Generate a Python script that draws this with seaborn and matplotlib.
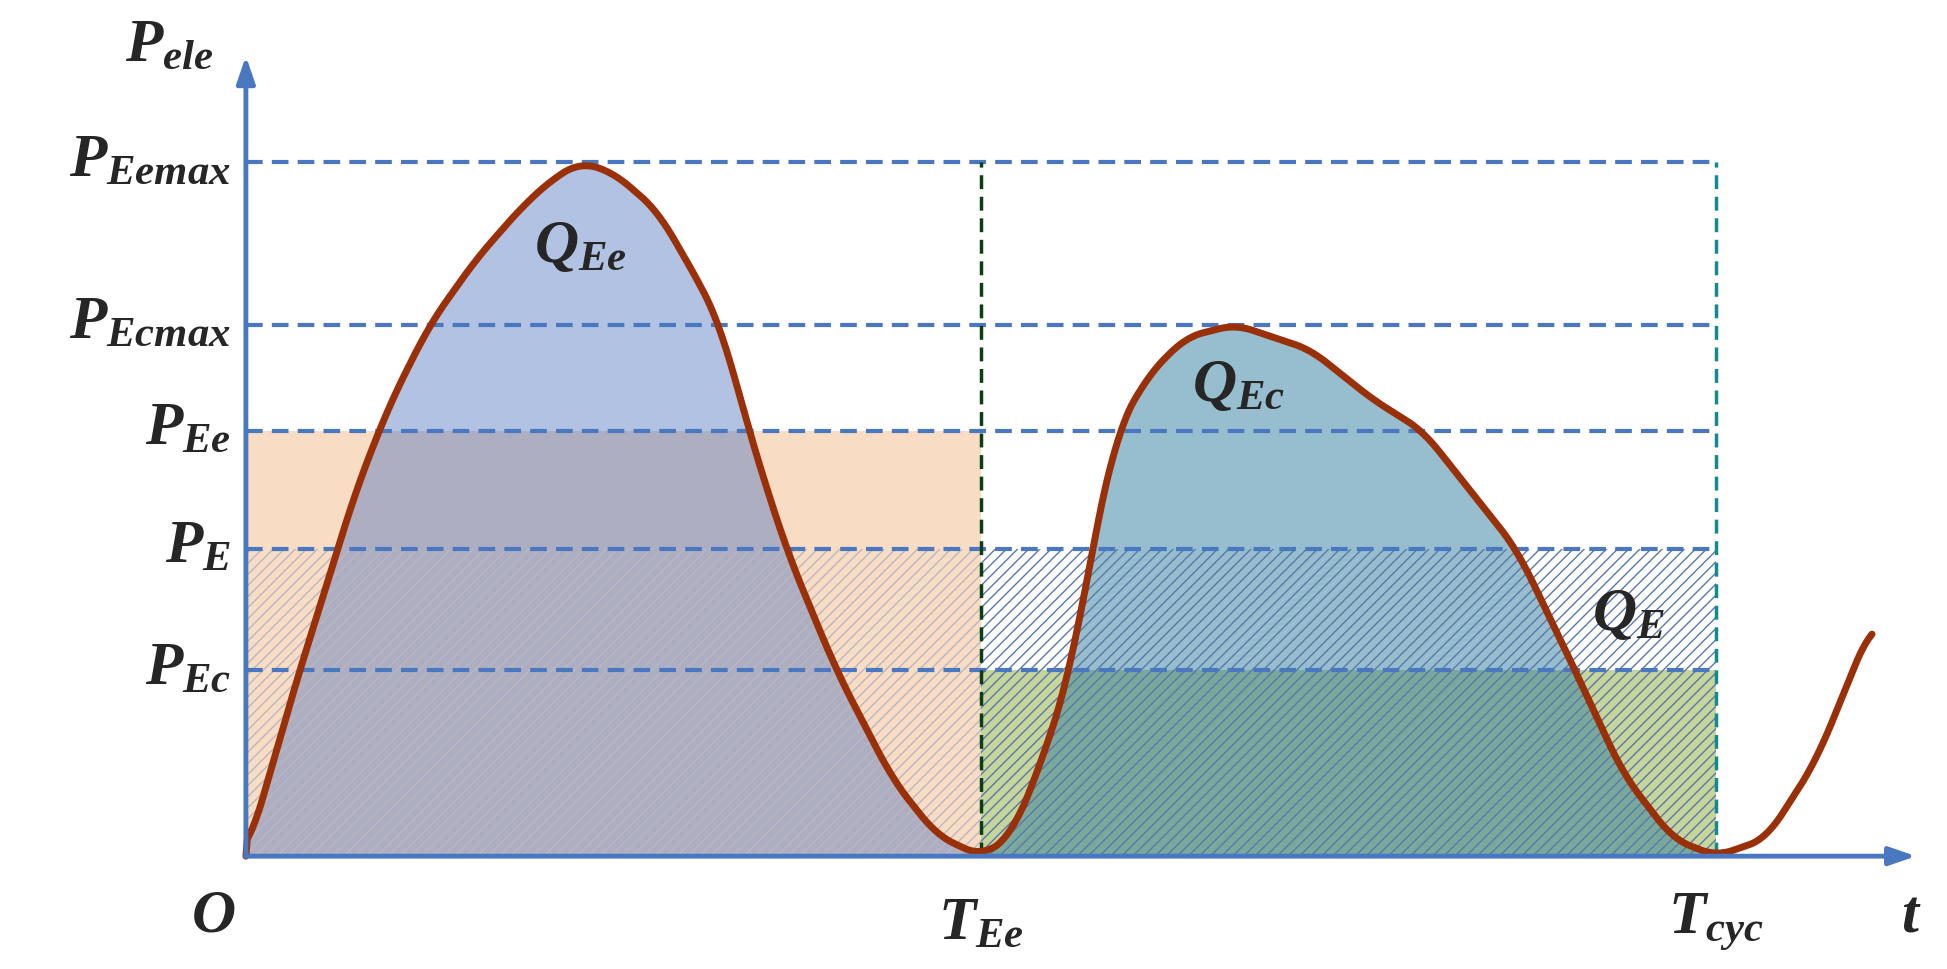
import numpy as np
import pandas as pd
import matplotlib
matplotlib.use('Agg')
import matplotlib.pyplot as plt
import seaborn as sns

# levels (normalised to P_Eemax = 1) and times (T_Ee = 1)
level_names = ['$P_{Eemax}$', '$P_{Ecmax}$', '$P_{Ee}$', '$P_{E}$', '$P_{Ec}$']
level_vals = [1.0, 0.766, 0.613, 0.442, 0.268]
T_Ee = 1.0
T_cyc = 2.0

# power curve
curve_t = [0.0, 0.037, 0.073, 0.110, 0.147, 0.195, 0.250, 0.313, 0.375, 0.416, 0.455, 0.500,
           0.560, 0.620, 0.645, 0.660, 0.684, 0.735, 0.803, 0.880, 0.940, 1.0,
           1.041, 1.083, 1.122, 1.151, 1.185, 1.228, 1.279, 1.346, 1.448, 1.533, 1.601,
           1.729, 1.808, 1.873, 1.941, 2.0, 2.068, 2.136, 2.212]
curve_p = [0.0, 0.135, 0.268, 0.390, 0.520, 0.650, 0.766, 0.860, 0.935, 0.975, 1.0, 0.985,
           0.930, 0.820, 0.766, 0.710, 0.613, 0.442, 0.268, 0.110, 0.030, 0.0,
           0.029, 0.137, 0.268, 0.442, 0.613, 0.694, 0.748, 0.766, 0.730, 0.658, 0.613,
           0.442, 0.268, 0.119, 0.025, 0.0, 0.025, 0.137, 0.335]

sns.set_style('white')
plt.rcParams['mathtext.fontset'] = 'custom'
plt.rcParams['mathtext.it'] = 'Liberation Serif:bold:italic'
plt.rcParams['mathtext.rm'] = 'Liberation Serif:bold:italic'

fig = plt.figure(figsize=(19.47, 9.69), dpi=100)
ax = fig.add_axes([0, 0, 1, 1])
ax.set_xlim(-0.3345, 2.314)
ax.set_ylim(-0.1626, 1.2338)
ax.axis('off')

# smooth curve through the read points
tt = np.linspace(0, curve_t[-1], 1200)
pp = np.interp(tt, curve_t, curve_p)
k = np.ones(25) / 25
pp_s = np.convolve(np.pad(pp, 12, mode='edge'), k, mode='valid')
pp_s = np.maximum(pp_s, 0)
pp_s[0] = 0
df = pd.DataFrame({'t': tt, 'p': pp_s})

blue = '#4a78c0'
m1 = tt <= T_Ee
m2 = (tt >= T_Ee) & (tt <= T_cyc)

# first period: orange rectangle + blue area
ax.fill_between([0, T_Ee], 0, level_vals[2], color='#f8dcc4', lw=0, zorder=1)
ax.fill_between(tt[m1], 0, pp_s[m1], color='#5478c0', alpha=0.45, lw=0, zorder=2)
ax.fill_between([0, T_Ee], 0, level_vals[3], facecolor='none', edgecolor='#b8b8c0',
                hatch='///', lw=0, zorder=3)

# second period: green rectangle + teal area + hatch
ax.fill_between([T_Ee, T_cyc], 0, level_vals[4], color='#c5d59c', lw=0, zorder=1)
ax.fill_between(tt[m2], 0, pp_s[m2], color='#2f7f9f', alpha=0.5, lw=0, zorder=2)
ax.fill_between([T_Ee, T_cyc], 0, level_vals[3], facecolor='none', edgecolor='#5a78a8',
                hatch='///', lw=0, zorder=3)

# dashed guide lines
for v in level_vals:
    ax.plot([0, T_cyc], [v, v], ls=(0, (4, 2.2)), color=blue, lw=3, zorder=4)
ax.plot([T_Ee, T_Ee], [0, level_vals[0]], ls=(0, (4, 2.2)), color='#0b3d17', lw=2.5, zorder=4)
ax.plot([T_cyc, T_cyc], [0, level_vals[0]], ls=(0, (4, 2.2)), color='#16898a', lw=2.5, zorder=4)

# curve
sns.lineplot(data=df, x='t', y='p', color='#9a3008', lw=5, ax=ax, zorder=6, legend=False)
ax.set_xlim(-0.3345, 2.314)
ax.set_ylim(-0.1626, 1.2338)
ax.axis('off')

# axes arrows
arrow = dict(arrowstyle='-|>,head_length=1.6,head_width=0.55', color=blue, lw=3.5,
             shrinkA=0, shrinkB=0)
ax.annotate('', xy=(2.272, 0), xytext=(0, 0), arrowprops=arrow, zorder=7)
ax.annotate('', xy=(0, 1.153), xytext=(0, 0), arrowprops=arrow, zorder=7)

fs = 44
for name, v in zip(level_names, level_vals):
    ax.text(-0.02, v + 0.005, name, ha='right', va='center', fontsize=fs)
ax.text(-0.045, 1.17, '$P_{ele}$', ha='right', va='center', fontsize=fs)
ax.text(-0.045, -0.085, '$O$', ha='center', va='center', fontsize=fs)
ax.text(T_Ee, -0.095, '$T_{Ee}$', ha='center', va='center', fontsize=fs)
ax.text(T_cyc, -0.095, '$T_{cyc}$', ha='center', va='center', fontsize=fs)
ax.text(2.265, -0.085, '$t$', ha='center', va='center', fontsize=fs)
ax.text(0.455, 0.88, '$Q_{Ee}$', ha='center', va='center', fontsize=fs, zorder=8)
ax.text(1.35, 0.68, '$Q_{Ec}$', ha='center', va='center', fontsize=fs, zorder=8)
ax.text(1.88, 0.35, '$Q_{E}$', ha='center', va='center', fontsize=fs, zorder=8)

fig.savefig('out.png', dpi=100)
